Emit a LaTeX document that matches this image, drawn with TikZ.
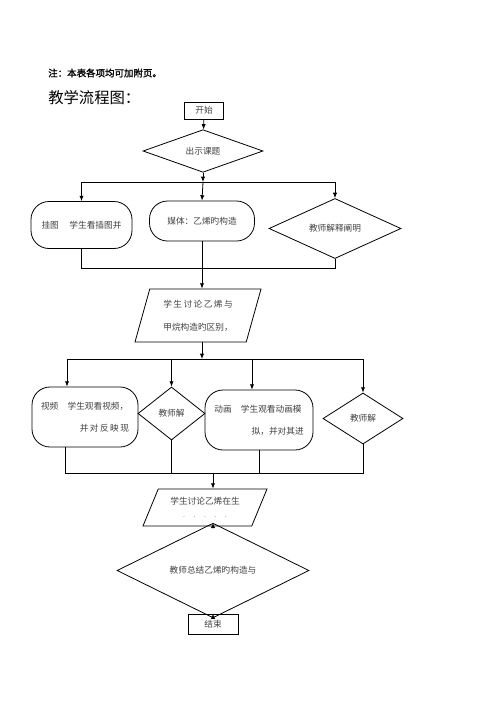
\documentclass[tikz,border=0pt]{standalone}
\usepackage{fontspec}
\newfontfamily\cjk{Noto Sans CJK SC}
\newfontfamily\cjkbold[FakeBold=1.5]{Noto Sans CJK SC}
\usetikzlibrary{shapes.geometric,arrows.meta}

\tikzset{
  flow/.style={draw, line width=0.6pt, inner sep=1pt, text=black!75,
    font=\cjk\fontsize{6.5}{8}\selectfont},
  endbox/.style={flow, rectangle, minimum width=29.25pt, minimum height=12.75pt},
  roundbox/.style={flow, rectangle, rounded corners=13.5pt},
  decision/.style={flow, diamond, inner sep=0pt},
  talkbox/.style={flow, trapezium, trapezium stretches body,
    trapezium left angle=#1, trapezium right angle=180-#1},
  link/.style={line width=0.6pt}
}

\begin{document}
\begin{tikzpicture}[x=0.75pt, y=-0.75pt, >={Latex[length=4pt,width=3.2pt]}]
  \useasboundingbox (0,0) rectangle (500,707);

  % Heading
  \node[anchor=west, inner sep=0pt, font=\cjkbold\fontsize{7.1}{8}\selectfont] (note) at (48,73) {注：本表各项均可加附页。};
  \node[anchor=west, inner sep=0pt, font=\cjk\fontsize{11.5}{13}\selectfont] (title) at (48,98) {教学流程图：};

  % Define node positions
  \node[endbox] (start) at (204,110.5) {开始};
  \node[decision, minimum width=90pt, minimum height=24pt] (topic) at (203,151) {出示课题};

  \node[roundbox, minimum width=75.75pt, minimum height=35.25pt] (chart) at (81.5,225) {挂图\hspace{8pt}学生看插图并};
  \node[roundbox, minimum width=78.75pt, minimum height=30pt] (media) at (202,221) {媒体：乙烯旳构造};
  \node[decision, minimum width=99pt, minimum height=39.75pt] (explain) at (335,228.5) {教师解释阐明};

  \node[talkbox=66.5, minimum width=94.5pt, minimum height=39.75pt, align=center] (discA) at (198,315.5)
    {学\,生\,讨\,论\,乙\,烯\,与\\[9.25pt]甲烷构造旳区别，};

  \node[roundbox, minimum width=79.5pt, minimum height=45pt, text width=66pt, align=left] (video) at (85,417)
    {视频\hspace{7pt}学生观看视频，\\[8.5pt]\hspace*{\fill}并\,对\,反\,映\,现};
  \node[decision, minimum width=50.25pt, minimum height=39.75pt] (teachA) at (171.5,413.5) {教师解};
  \node[roundbox, minimum width=81pt, minimum height=45pt, text width=67pt, align=left] (anim) at (259,420)
    {动画\hspace{7pt}学生观看动画模\\[8.5pt]\hspace*{\fill}拟，并对其进};
  \node[decision, minimum width=60pt, minimum height=38.25pt] (teachB) at (363,418.5) {教师解};

  \node[talkbox=57, minimum width=93pt, minimum height=27.75pt, align=center] (discB) at (205,507.5)
    {学生讨论乙烯在生\\[2pt]{\color{black!30}.\hspace{6pt}.\hspace{6pt}.\hspace{6pt}.\hspace{6pt}.}};
  \node[decision, minimum width=144pt, minimum height=41.25pt] (sum) at (213,570.5) {教师总结乙烯旳构造与};
  \node[endbox, minimum width=37.5pt, minimum height=15pt] (stop) at (213,624) {结束};

  \coordinate (forkA) at (203,182);
  \coordinate (joinA) at (203,268);
  \coordinate (forkB) at (202,359);
  \coordinate (leftB) at (67,359);
  \coordinate (animB) at (252,359);
  \coordinate (joinB) at (213,473);
  \coordinate (leftJ) at (65,473);

  % Draw edges
  \draw[link, ->] (start) -- (topic);
  \draw[link, ->] (topic.south) -- (forkA);
  \draw[link] (chart.north |- forkA) -- (explain.north |- forkA);

  \draw[link, ->] (chart.north |- forkA) -- (chart.north);
  \draw[link, ->] (forkA) -- (media.north);
  \draw[link, ->] (explain.north |- forkA) -- (explain.north);

  \draw[link] (chart.south) -- (chart.south |- joinA) -- (explain.south |- joinA) -- (explain.south);
  \draw[link, ->] (media.south) -- (media.south |- discA.north);

  \draw[link, ->] (media.south |- discA.south) -- (forkB);
  \draw[link] (leftB) -- (teachB.north |- forkB);

  \draw[link, ->] (leftB) -- (leftB |- video.north);
  \draw[link, ->] (teachA.north |- forkB) -- (teachA.north);
  \draw[link, ->] (animB) -- (animB |- anim.north);
  \draw[link, ->] (teachB.north |- forkB) -- (teachB.north);

  \draw[link] (leftJ |- video.south) -- (leftJ) -- (teachB.south |- leftJ) -- (teachB.south);
  \draw[link] (teachA.south) -- (teachA.south |- leftJ);
  \draw[link] (anim.south) -- (anim.south |- leftJ);

  \draw[link, ->] (joinB) -- (joinB |- discB.north);
  \draw[link, ->] (joinB |- discB.south) -- (sum.north);
  \draw[link, ->] (sum.south) -- (stop.north);

\end{tikzpicture}
\end{document}
